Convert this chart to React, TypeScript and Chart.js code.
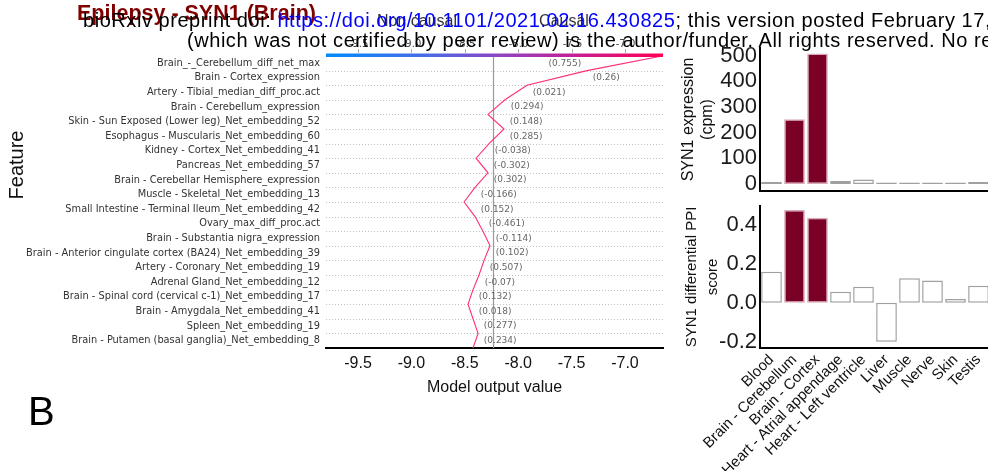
import React, { useEffect, useRef } from "react";
import { Chart, registerables } from "chart.js";

Chart.register(...registerables);

// ---------------- DATA ----------------
const features = [
  "Brain_-_Cerebellum_diff_net_max",
  "Brain - Cortex_expression",
  "Artery - Tibial_median_diff_proc.act",
  "Brain - Cerebellum_expression",
  "Skin - Sun Exposed (Lower leg)_Net_embedding_52",
  "Esophagus - Muscularis_Net_embedding_60",
  "Kidney - Cortex_Net_embedding_41",
  "Pancreas_Net_embedding_57",
  "Brain - Cerebellar Hemisphere_expression",
  "Muscle - Skeletal_Net_embedding_13",
  "Small Intestine - Terminal Ileum_Net_embedding_42",
  "Ovary_max_diff_proc.act",
  "Brain - Substantia nigra_expression",
  "Brain - Anterior cingulate cortex (BA24)_Net_embedding_39",
  "Artery - Coronary_Net_embedding_19",
  "Adrenal Gland_Net_embedding_12",
  "Brain - Spinal cord (cervical c-1)_Net_embedding_17",
  "Brain - Amygdala_Net_embedding_41",
  "Spleen_Net_embedding_19",
  "Brain - Putamen (basal ganglia)_Net_embedding_8",
];

const featureValues = [
  "0.755", "0.26", "0.021", "0.294", "0.148", "0.285", "-0.038", "-0.302", "0.302", "-0.166",
  "0.152", "-0.461", "-0.114", "0.102", "0.507", "-0.07", "0.132", "0.018", "0.277", "0.234",
];

// cumulative model output, from the bottom row boundary (index 0) to the top (index 20)
const cumulativeOutput = [
  -8.423, -8.376, -8.423, -8.47, -8.423, -8.367, -8.32, -8.264, -8.33, -8.404,
  -8.507, -8.404, -8.283, -8.395, -8.273, -8.133, -8.283, -8.124, -7.918, -7.356, -6.654,
];

const baseValue = -8.233;
const outputTicks = [-9.5, -9.0, -8.5, -8.0, -7.5, -7.0];

const tissues = [
  "Blood",
  "Brain - Cerebellum",
  "Brain - Cortex",
  "Heart - Atrial appendage",
  "Heart - Left ventricle",
  "Liver",
  "Muscle",
  "Nerve",
  "Skin",
  "Testis",
];
const expressionCpm = [8, 252, 508, 12, 18, 6, 6, 6, 6, 8];
const ppiScore = [0.16, 0.477, 0.438, 0.057, 0.082, -0.201, 0.126, 0.115, 0.019, 0.088];
const highlightedTissue = [false, true, true, false, false, false, false, false, false, false];
const expressionTicks = [0, 100, 200, 300, 400, 500];
const ppiTicks = [-0.2, 0.0, 0.2, 0.4];

// ---------------- STYLE ----------------
const SANS = '"Liberation Sans", Arial, sans-serif';
const DEJAVU = '"DejaVu Sans", sans-serif';
const HIGHLIGHT_FILL = "#7b0026";
const HIGHLIGHT_BORDER = "#d8aab7";
const PLAIN_FILL = "#ffffff";
const PLAIN_BORDER = "#a0a0a0";

function drawRotated(ctx: CanvasRenderingContext2D, text: string, x: number, y: number, font: string, color: string) {
  ctx.save();
  ctx.translate(x, y);
  ctx.rotate(-Math.PI / 2);
  ctx.font = font;
  ctx.fillStyle = color;
  ctx.textAlign = "center";
  ctx.textBaseline = "middle";
  ctx.fillText(text, 0, 0);
  ctx.restore();
}

function zeroPadding(s: any) {
  s.paddingTop = 0;
  s.paddingBottom = 0;
  s.paddingLeft = 0;
  s.paddingRight = 0;
}

// ---------------- DECISION PLOT ----------------
function DecisionPlot() {
  const ref = useRef<HTMLCanvasElement>(null);
  useEffect(() => {
    if (!ref.current) return;
    const n = features.length;
    const overlay = {
      id: "decisionOverlay",
      beforeDatasetsDraw(chart: any) {
        const { ctx, chartArea: a, scales } = chart;
        const x = scales.x;
        const y = scales.y;
        ctx.save();
        ctx.strokeStyle = "#a8a8a8";
        ctx.lineWidth = 0.7;
        ctx.setLineDash([1, 2]);
        for (let i = 1; i <= n; i++) {
          const py = Math.round(y.getPixelForValue(i)) + 0.5;
          ctx.beginPath();
          ctx.moveTo(a.left, py);
          ctx.lineTo(a.right, py);
          ctx.stroke();
        }
        ctx.setLineDash([]);
        const bx = Math.round(x.getPixelForValue(baseValue)) + 0.5;
        ctx.strokeStyle = "#9a9a9a";
        ctx.lineWidth = 1.2;
        ctx.beginPath();
        ctx.moveTo(bx, a.top);
        ctx.lineTo(bx, a.bottom);
        ctx.stroke();
        ctx.restore();
      },
      afterDatasetsDraw(chart: any) {
        const { ctx, chartArea: a, scales } = chart;
        const x = scales.x;
        const y = scales.y;
        ctx.save();
        // feature value annotations
        ctx.font = `9px ${DEJAVU}`;
        ctx.fillStyle = "#666666";
        ctx.textBaseline = "middle";
        for (let k = 0; k < n; k++) {
          const lo = n - 1 - k;
          const hi = n - k;
          const va = cumulativeOutput[lo];
          const vb = cumulativeOutput[hi];
          const py = y.getPixelForValue(lo + 0.5);
          let txt = "  (" + featureValues[k] + ")";
          let px = x.getPixelForValue(Math.max(va, vb));
          ctx.textAlign = "left";
          if (px + ctx.measureText(txt).width > a.right) {
            txt = "(" + featureValues[k] + ")  ";
            px = x.getPixelForValue(Math.min(va, vb));
            ctx.textAlign = "right";
          }
          ctx.fillText(txt, px, py);
        }
        // colour bar on top
        const grad = ctx.createLinearGradient(a.left, 0, a.right, 0);
        grad.addColorStop(0, "#008bfb");
        grad.addColorStop(0.3, "#4a6ae6");
        grad.addColorStop(0.5, "#8a46c4");
        grad.addColorStop(0.75, "#c81d93");
        grad.addColorStop(1, "#ff0052");
        ctx.fillStyle = grad;
        ctx.fillRect(a.left, a.top - 2.5, a.right - a.left, 3.5);
        // colour bar ticks & labels
        ctx.strokeStyle = "#b0b0b0";
        ctx.lineWidth = 1;
        ctx.font = `10px ${DEJAVU}`;
        ctx.fillStyle = "#444";
        ctx.textAlign = "center";
        ctx.textBaseline = "middle";
        outputTicks.forEach((t) => {
          const px = Math.round(x.getPixelForValue(t)) + 0.5;
          ctx.beginPath();
          ctx.moveTo(px, a.top - 7);
          ctx.lineTo(px, a.top - 3);
          ctx.stroke();
          ctx.fillText(t.toFixed(1), px, a.top - 12);
        });
        // class labels
        ctx.font = `16px ${SANS}`;
        ctx.fillStyle = "#333";
        ctx.textBaseline = "alphabetic";
        ctx.fillText("Non causal", 417, 26);
        ctx.fillText("Causal", 564, 26);
        // axis titles
        ctx.font = `16px ${SANS}`;
        ctx.fillStyle = "#111";
        ctx.textBaseline = "middle";
        ctx.fillText("Model output value", (a.left + a.right) / 2, 388);
        drawRotated(ctx, "Feature", 17, 165, `20px ${SANS}`, "#111");
        ctx.restore();
      },
    };

    const chart = new Chart(ref.current, {
      type: "scatter",
      data: {
        datasets: [
          {
            data: cumulativeOutput.map((v, i) => ({ x: v, y: i })),
            showLine: true,
            borderColor: "#ff2e7a",
            borderWidth: 1.1,
            pointRadius: 0,
            tension: 0,
          },
        ],
      },
      options: {
        animation: false,
        responsive: false,
        events: [],
        layout: { padding: { top: 56, right: 17, bottom: 0, left: 0 } },
        plugins: { legend: { display: false }, tooltip: { enabled: false } },
        scales: {
          x: {
            type: "linear",
            min: -9.8,
            max: -6.644,
            afterBuildTicks: (s: any) => {
              s.ticks = outputTicks.map((v) => ({ value: v }));
            },
            afterFit: (s: any) => {
              s.height = 62;
              zeroPadding(s);
            },
            ticks: {
              callback: (v: any) => Number(v).toFixed(1),
              font: { family: SANS, size: 16 },
              color: "#111",
              padding: 6,
              maxRotation: 0,
              autoSkip: false,
            },
            grid: { display: false, drawTicks: false, tickLength: 0 },
            border: { display: true, color: "#000", width: 2 },
          },
          y: {
            type: "linear",
            min: 0,
            max: 20,
            afterBuildTicks: (s: any) => {
              s.ticks = features.map((_, i) => ({ value: i + 0.5 }));
            },
            afterFit: (s: any) => {
              s.width = 326;
              zeroPadding(s);
            },
            ticks: {
              callback: (_v: any, i: number) => features[features.length - 1 - i],
              font: { family: DEJAVU, size: 9.8 },
              color: "#333333",
              padding: 6,
              autoSkip: false,
            },
            grid: { display: false, drawTicks: false, tickLength: 0 },
            border: { display: false },
          },
        },
      },
      plugins: [overlay],
    } as any);
    return () => chart.destroy();
  }, []);
  return (
    <canvas
      ref={ref}
      width={680}
      height={410}
      style={{ position: "absolute", left: 0, top: 0, width: 680, height: 410 }}
    />
  );
}

// ---------------- BAR PANELS ----------------
type PanelProps = {
  values: number[];
  ticks: number[];
  min: number;
  max: number;
  decimals: number;
  titleLines: string[];
  titleX: number[];
  titleSize: number;
  left: number;
  top: number;
  width: number;
  height: number;
  padTop: number;
  padBottom: number;
  xHeight: number;
  showLabels: boolean;
};

function BarPanel(p: PanelProps) {
  const ref = useRef<HTMLCanvasElement>(null);
  useEffect(() => {
    if (!ref.current) return;
    const titlePlugin = {
      id: "panelTitle",
      afterDraw(chart: any) {
        const { ctx, chartArea: a } = chart;
        const cy = (a.top + a.bottom) / 2;
        p.titleLines.forEach((line, i) => {
          drawRotated(ctx, line, p.titleX[i], cy, `${p.titleSize}px ${SANS}`, "#111");
        });
      },
    };
    const chart = new Chart(ref.current, {
      type: "bar",
      data: {
        labels: tissues,
        datasets: [
          {
            data: p.values,
            backgroundColor: highlightedTissue.map((h) => (h ? HIGHLIGHT_FILL : PLAIN_FILL)),
            borderColor: highlightedTissue.map((h) => (h ? HIGHLIGHT_BORDER : PLAIN_BORDER)),
            borderWidth: 1.5,
            borderSkipped: false,
            barPercentage: 0.9,
            categoryPercentage: 1.0,
          },
        ],
      },
      options: {
        animation: false,
        responsive: false,
        events: [],
        layout: { padding: { top: p.padTop, right: 10, bottom: p.padBottom, left: 0 } },
        plugins: { legend: { display: false }, tooltip: { enabled: false } },
        scales: {
          x: {
            type: "category",
            afterFit: (s: any) => {
              s.height = p.xHeight;
              zeroPadding(s);
            },
            ticks: {
              display: p.showLabels,
              font: { family: SANS, size: 15 },
              color: "#111",
              minRotation: 45,
              maxRotation: 45,
              autoSkip: false,
              padding: 3,
            },
            grid: { display: false, drawTicks: false, tickLength: 0 },
            border: { display: true, color: "#000", width: 2 },
          },
          y: {
            type: "linear",
            min: p.min,
            max: p.max,
            afterBuildTicks: (s: any) => {
              s.ticks = p.ticks.map((v) => ({ value: v }));
            },
            afterFit: (s: any) => {
              s.width = 80;
              zeroPadding(s);
            },
            ticks: {
              callback: (v: any) => Number(v).toFixed(p.decimals),
              font: { family: SANS, size: 22 },
              color: "#1a1a1a",
              padding: 3,
              autoSkip: false,
            },
            grid: { display: false, drawTicks: false, tickLength: 0 },
            border: { display: true, color: "#000", width: 2 },
          },
        },
      },
      plugins: [titlePlugin],
    } as any);
    return () => chart.destroy();
  }, []);
  return (
    <canvas
      ref={ref}
      width={p.width}
      height={p.height}
      style={{ position: "absolute", left: p.left, top: p.top, width: p.width, height: p.height }}
    />
  );
}

// ---------------- APP ----------------
export default function App() {
  const wm: React.CSSProperties = {
    position: "absolute",
    whiteSpace: "nowrap",
    fontFamily: SANS,
    fontSize: 20,
    letterSpacing: "0.55px",
    lineHeight: "20px",
    color: "#000",
  };
  return (
    <div
      style={{
        position: "fixed",
        left: 0,
        top: 0,
        width: 988,
        height: 471,
        overflow: "hidden",
        background: "#ffffff",
      }}
    >
      <DecisionPlot />
      <BarPanel
        values={expressionCpm}
        ticks={expressionTicks}
        min={-27}
        max={529}
        decimals={0}
        titleLines={["SYN1 expression", "(cpm)"]}
        titleX={[9, 28]}
        titleSize={16}
        left={680}
        top={40}
        width={320}
        height={160}
        padTop={8}
        padBottom={9}
        xHeight={0}
        showLabels={false}
      />
      <BarPanel
        values={ppiScore}
        ticks={ppiTicks}
        min={-0.233}
        max={0.498}
        decimals={1}
        titleLines={["SYN1 differential PPI", "score"]}
        titleX={[12, 33]}
        titleSize={15}
        left={680}
        top={195}
        width={320}
        height={276}
        padTop={11}
        padBottom={0}
        xHeight={123}
        showLabels={true}
      />
      <div
        style={{
          position: "absolute",
          left: 28,
          top: 391,
          fontFamily: SANS,
          fontSize: 40,
          lineHeight: "40px",
          color: "#000",
        }}
      >
        B
      </div>
      <div
        style={{
          position: "absolute",
          left: 77,
          top: 3,
          whiteSpace: "nowrap",
          fontFamily: SANS,
          fontWeight: "bold",
          fontSize: 21.5,
          lineHeight: "21.5px",
          color: "#800000",
        }}
      >
        Epilepsy - SYN1 (Brain)
      </div>
      <div style={{ ...wm, left: 83, top: 10 }}>
        bioRxiv preprint doi: <span style={{ color: "#0000ff" }}>https://doi.org/10.1101/2021.02.16.430825</span>; this
        version posted February 17, 2021. The copyright holder for this preprint
      </div>
      <div style={{ ...wm, left: 187, top: 30 }}>
        (which was not certified by peer review) is the author/funder. All rights reserved. No reuse allowed without
        permission.
      </div>
    </div>
  );
}
